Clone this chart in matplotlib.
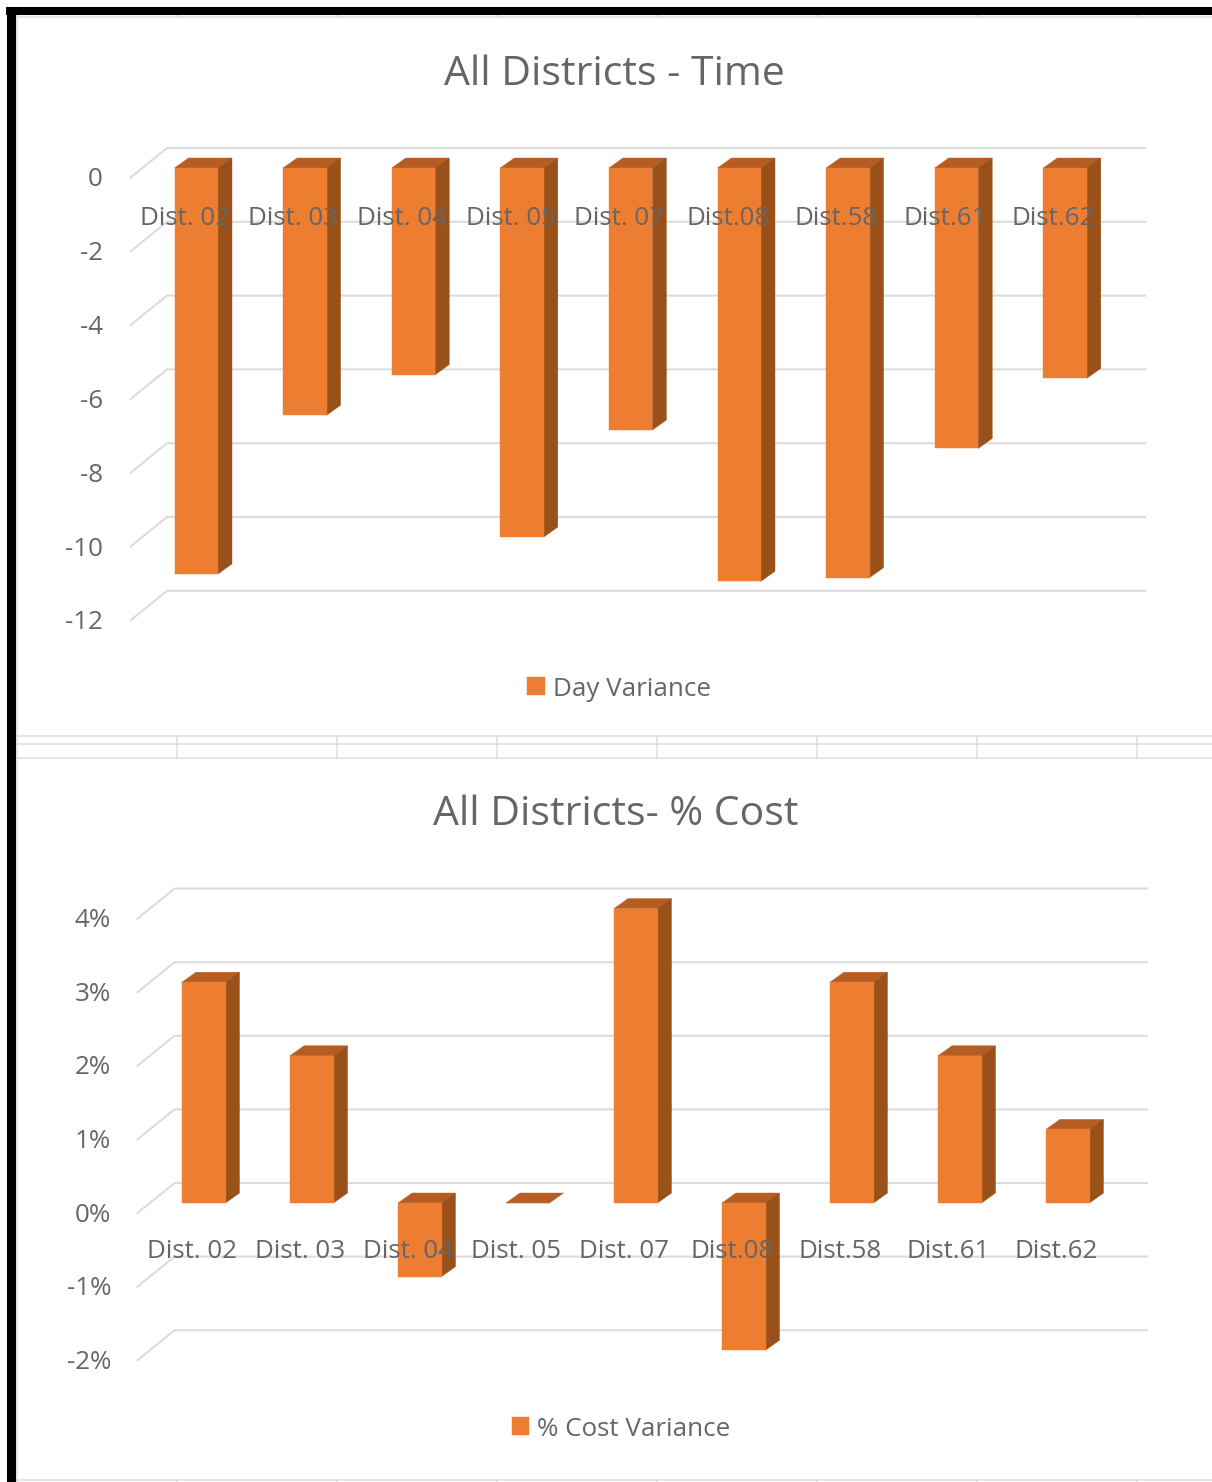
import matplotlib
matplotlib.use("Agg")
import matplotlib.pyplot as plt
from matplotlib.patches import Polygon
from matplotlib.lines import Line2D
from matplotlib.transforms import Affine2D

districts = ["Dist. 02", "Dist. 03", "Dist. 04", "Dist. 05", "Dist. 07",
             "Dist.08", "Dist.58", "Dist.61", "Dist.62"]
day_variance = [-11, -6.7, -5.6, -10, -7.1, -11.2, -11.1, -7.6, -5.7]
cost_variance = [3, 2, -1, 0, 4, -2, 3, 2, 1]
day_ticks = [0, -2, -4, -6, -8, -10, -12]
cost_ticks = [4, 3, 2, 1, 0, -1, -2]
cost_tick_labels = ["4%", "3%", "2%", "1%", "0%", "-1%", "-2%"]

W, H = 1212, 1482
DPI = 100
FONT = "Open Sans"
TEXT = "#666666"
GRID = "#dcdcdc"
FRONT = "#ed7d31"
TOP = "#b65d24"
SIDE = "#9a5119"
LABEL_SIZE = 18.7

plt.rcParams["font.family"] = FONT
fig = plt.figure(figsize=(W / DPI, H / DPI), dpi=DPI, facecolor="white")

# Worksheet backdrop: window frame and pale cell borders
bg = fig.add_axes([0, 0, 1, 1], zorder=0)
bg.set_xlim(0, W)
bg.set_ylim(H, 0)
bg.axis("off")
SHEET = "#dedede"
for y in (17, 736, 744, 758, 1480):
    bg.add_line(Line2D([17, W], [y, y], color=SHEET, lw=1.1))
bg.add_line(Line2D([17, 17], [15, H], color=SHEET, lw=1.1))
for x in (177, 337, 497, 657, 817, 977, 1137):
    bg.add_line(Line2D([x, x], [15, 17], color=SHEET, lw=1.1))
    bg.add_line(Line2D([x, x], [736, 758], color=SHEET, lw=1.1))
    bg.add_line(Line2D([x, x], [1480, H], color=SHEET, lw=1.1))
for y in range(46, 1480, 48):
    bg.add_line(Line2D([15, 17], [y, y], color=SHEET, lw=0.8))
bg.add_line(Line2D([6, W], [11, 11], color="black", lw=5.8, solid_capstyle="butt"))
bg.add_line(Line2D([10.5, 10.5], [7, H], color="black", lw=6.5, solid_capstyle="butt"))


def draw_chart(box, origin, step, unit, values, ticks, tick_labels, title,
               title_xy, legend_label, legend_xy, label_right, label_pad):
    left, right, top, bottom = box
    x0, y0 = origin
    ax = fig.add_axes([left / W, 1 - bottom / H, (right - left) / W,
                       (bottom - top) / H], zorder=1)
    ax.patch.set_alpha(0)
    ax.set_xlim((left - x0) / step, (right - x0) / step)
    ax.set_ylim((y0 - bottom) / unit, (y0 - top) / unit)

    def dx(px):
        return px / step

    def dy(px):
        return px / unit

    # Floor-and-wall gridlines: a diagonal from the front plane to the back wall
    back_left = x0 - 7.5
    front_left = x0 - 44.5
    for t in ticks:
        ax.plot([(front_left - x0) / step, (back_left - x0) / step, (right - x0) / step],
                [t - dy(10), t + dy(20), t + dy(20)],
                color=GRID, lw=1.5, zorder=0.5, solid_joinstyle="miter")

    # Extruded columns: side and top faces sit under the front face, with a hairline
    # outline on each so no seam shows between them
    bar_w = dx(43.5)
    depth_x, depth_y = dx(14), dy(10)
    ax.bar(range(len(values)), values, width=bar_w, align="edge", color=FRONT,
           edgecolor=FRONT, linewidth=0.3, zorder=1.2, label=legend_label)
    for i, v in enumerate(values):
        hi, lo = max(v, 0), min(v, 0)
        ax.add_patch(Polygon([(i, hi), (i + depth_x, hi + depth_y),
                              (i + bar_w + depth_x, hi + depth_y), (i + bar_w, hi)],
                             closed=True, facecolor=TOP, edgecolor=TOP, linewidth=0.3,
                             zorder=1.1))
        if hi != lo:
            ax.add_patch(Polygon([(i + bar_w, hi), (i + bar_w + depth_x, hi + depth_y),
                                  (i + bar_w + depth_x, lo + depth_y), (i + bar_w, lo)],
                                 closed=True, facecolor=SIDE, edgecolor=SIDE, linewidth=0.3,
                                 zorder=1.1))

    for s in ("top", "left", "right"):
        ax.spines[s].set_visible(False)
    ax.spines["bottom"].set_position(("data", 0))
    ax.spines["bottom"].set_visible(False)
    ax.set_axisbelow(False)

    ax.set_xticks([i + bar_w / 2 for i in range(len(values))])
    ax.set_xticklabels(districts)
    ax.set_yticks(ticks)
    ax.set_yticklabels(tick_labels)
    ax.tick_params(axis="x", length=0, pad=label_pad * 72 / DPI, labelsize=LABEL_SIZE,
                   labelcolor=TEXT)
    ax.tick_params(axis="y", length=0, pad=(left - label_right) * 72 / DPI,
                   labelsize=LABEL_SIZE, labelcolor=TEXT)
    shift_x = Affine2D().translate(-11.5, 0)
    shift_y = Affine2D().translate(0, -9)
    for lab in ax.get_xticklabels():
        lab.set_transform(lab.get_transform() + shift_x)
    for lab in ax.get_yticklabels():
        lab.set_transform(lab.get_transform() + shift_y)

    ax.set_title(title, x=(title_xy[0] - left) / (right - left),
                 y=(bottom - title_xy[1]) / (bottom - top), va="center",
                 fontsize=29.5, color=TEXT, pad=0)
    ax.legend(loc="center", bbox_to_anchor=(legend_xy[0] / W, 1 - legend_xy[1] / H),
              bbox_transform=fig.transFigure, frameon=False, fontsize=LABEL_SIZE,
              labelcolor=TEXT, handlelength=0.68, handleheight=0.68, handletextpad=0.3,
              borderpad=0, borderaxespad=0)
    return ax


draw_chart((130, 1146, 140, 630), (174.5, 168), 108.6, 36.9, day_variance, day_ticks,
           [str(t) for t in day_ticks], "All Districts - Time", (614, 75),
           "Day Variance", (619, 689), 103, 38)
draw_chart((130, 1148, 880, 1370), (182, 1203), 108.0, 73.6, cost_variance, cost_ticks,
           cost_tick_labels, "All Districts- % Cost", (616, 815),
           "% Cost Variance", (621, 1429), 111, 36)

fig.savefig("out.png", dpi=DPI, facecolor="white")
